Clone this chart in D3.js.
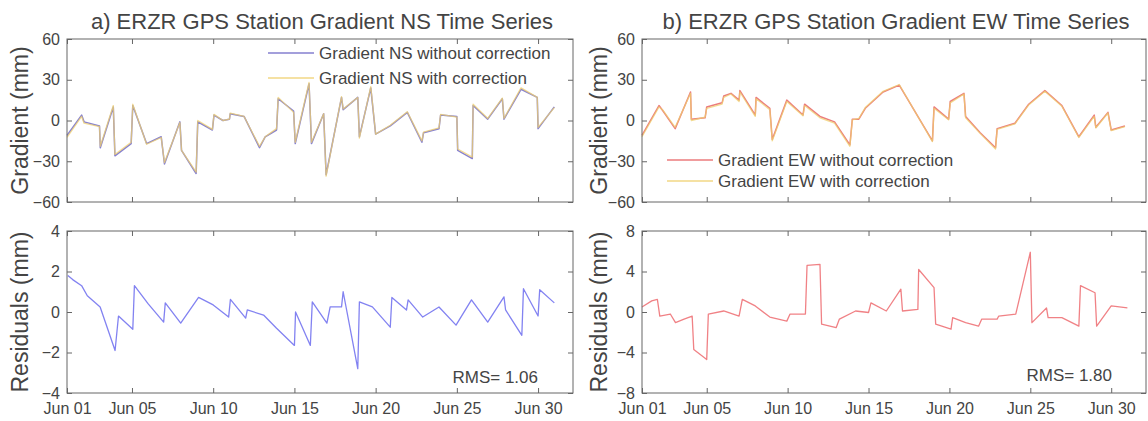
<!DOCTYPE html>
<html>
<head>
<meta charset="utf-8">
<script src="https://cdn.jsdelivr.net/npm/d3@7"></script>
<style>
  html, body { margin: 0; padding: 0; background: #fff; }
  svg { display: block; font-family: "Liberation Sans", Arial, sans-serif; }
</style>
</head>
<body>
<svg id="chart" width="1148" height="421"></svg>
<script>
// ---- NS gradient (mm), time in days since Jun 01 00:00 ----
const nsDays = [0.0,0.9,1.05,2.0,2.05,2.85,2.95,3.95,4.05,4.9,5.8,6.0,6.95,7.05,7.95,8.05,8.95,9.05,9.6,10.0,10.05,10.9,11.85,12.2,12.9,13.0,13.95,14.05,14.9,15.05,15.8,15.95,16.9,17.0,17.9,18.0,18.7,19.0,19.9,20.95,21.85,21.95,22.9,23.0,24.0,24.05,24.95,25.0,25.9,26.8,26.9,27.95,28.95,29.0,30.0];
const nsRaw  = [-11,4,-1,-4,-20,10,-26,-17,11,-17,-12,-32,-1,-22,-39,-1,-7,4,0,1,5,3,-20,-12,-7,16,7,-17,27,-17,5,-40,17,8,17,-12,24,-10,-4,6,-16,-9,-6,4,3,-22,-28,11,1,16,1,23,17,-6,10];
const nsCorr = [-12.5,3,-2,-4.5,-19,11,-25,-16,12,-17.5,-12.5,-31,-1.5,-22,-38,0,-6.5,4.5,0,1,5.5,3,-19,-12,-6,17,6,-16,28,-16,5,-41,17.5,8.5,17,-13,25,-10,-3.5,6.5,-15,-8.5,-5.5,4.5,2.5,-21,-27,12,1.5,16.5,1.5,24,17,-5,9.5];

// ---- NS residuals (mm) ----
const nsResDays = [0.05,0.35,0.9,1.25,2.04,2.96,3.17,4.05,4.15,5.0,5.95,6.05,7.0,8.1,9.0,9.95,10.06,11.0,11.1,12.1,12.9,14.0,14.07,14.98,15.1,16.0,16.2,16.9,17.0,17.9,18.0,18.8,19.9,20.0,20.9,21.0,21.9,22.9,23.95,24.9,25.9,26.9,27.0,28.0,28.1,29.0,29.1,30.0];
const nsRes     = [1.8,1.6,1.3,0.8,0.25,-1.9,-0.2,-0.85,1.3,0.4,-0.5,0.45,-0.55,0.72,0.35,-0.25,0.62,-0.3,0.1,-0.15,-0.8,-1.65,0.0,-1.65,0.5,-0.55,0.25,0.25,1.0,-2.8,0.5,0.25,-0.75,0.72,0.1,0.6,-0.25,0.25,-0.65,0.6,-0.5,0.75,0.1,-1.15,1.15,-0.2,1.1,0.45];

// ---- EW gradient (mm) ----
const ewDays = [0,1.05,1.3,2.05,3.0,3.05,3.9,4.0,4.95,5.05,5.5,6.0,6.05,7.0,7.05,7.9,8.05,8.95,9.95,10.05,11.0,11.9,12.85,13.0,13.4,13.8,14.9,15.9,17.95,18.05,18.95,19.05,19.9,20.0,20.9,21.85,21.95,23.05,23.9,24.9,25.95,27.0,27.95,28.05,28.8,29.0,29.85];
const ewRaw  = [-11,11,7,-6,21,1,2,10,13,18,20,15,22,4,17,9,-14,15,4,12,3,-1,-18,1,1,9,21,26,-15,10,1,14,20,3,-9,-20,-6,-2,12,22,11,-12,4,-5,6,-7,-4];
const ewCorr = [-12,10,7.5,-5,20,0,2.5,9,12,17,19.5,14,21,3,16,8,-15,14,3.5,11,2,-2,-19,0.5,1.5,9.5,21.5,26.5,-15.5,9,0.5,13,19.5,2,-9.5,-21,-6.5,-2.5,11.5,21.5,10.5,-12.5,3,-5.5,5.5,-7.5,-4.5];

// ---- EW residuals (mm) ----
const ewResDays = [0,0.6,0.95,1.1,1.75,2.07,2.6,3.1,3.2,4.0,4.1,5.05,6.0,6.2,7.0,7.9,8.95,9.15,10.1,10.2,11.0,11.1,12.0,12.2,13.2,14.0,14.15,15.1,16.0,16.1,17.05,17.1,18.05,18.15,19.1,19.2,20.0,20.8,21.0,21.95,22.05,23.1,24.0,24.1,25.0,25.1,25.95,27.0,27.1,28.0,28.1,29.0,30.0];
const ewRes     = [0.5,1.1,1.25,-0.4,-0.2,-1.05,-0.7,-0.4,-3.7,-4.7,-0.2,0.1,-0.4,1.25,0.6,-0.5,-0.9,-0.2,-0.2,4.6,4.7,-1.2,-1.55,-0.7,0.1,-0.05,0.9,0.1,2.25,0.1,0.25,4.2,2.4,-1.2,-1.7,-0.55,-1.05,-1.4,-0.7,-0.7,-0.4,-0.2,5.9,-1.05,0.4,-0.55,-0.55,-1.4,2.6,1.9,-1.4,0.6,0.4];

// ---- ticks and labels ----
const yTicksGrad  = [-60,-30,0,30,60];
const yTicksNSRes = [-4,-2,0,2,4];
const yTicksEWRes = [-8,-4,0,4,8];
const xTickDays   = [1,5,10,15,20,25,30];
const titles      = ["a) ERZR GPS Station Gradient NS Time Series", "b) ERZR GPS Station Gradient EW Time Series"];
const legendNS    = ["Gradient NS without correction", "Gradient NS with correction"];
const legendEW    = ["Gradient EW without correction", "Gradient EW with correction"];
const rmsLabels   = ["RMS= 1.06", "RMS= 1.80"];
const yLabelGrad  = "Gradient (mm)";
const yLabelRes   = "Residuals (mm)";

const TEXT = "#444444", AXIS = "#666666";
const C_NS = "#6660c4", C_EW = "#e65a5c", C_CORR = "#efcf6e";
const C_NSRES = "#7474f0", C_EWRES = "#ee7378";

const svg = d3.select("#chart");
const base = new Date(2019, 5, 1);
const toDate = d => new Date(base.getTime() + d * 864e5);
const xEnd = toDate(31.15);
const tickDates = xTickDays.map(d => new Date(2019, 5, d));
const fmt = d3.timeFormat("%b %d");

function panel(o) {
  const g = svg.append("g");
  const x = d3.scaleTime().domain([base, xEnd]).range([o.x0, o.x1]);
  const y = d3.scaleLinear().domain(o.yDomain).range([o.y1, o.y0]);
  const line = d3.line().x(p => x(p[0])).y(p => y(p[1]));

  o.series.forEach(s => {
    const pts = s.days.map((d, i) => [toDate(d), s.vals[i]]);
    g.append("path").datum(pts)
      .attr("fill", "none").attr("stroke", s.color)
      .attr("stroke-width", s.width).attr("stroke-opacity", s.opacity)
      .attr("stroke-linejoin", "round").attr("d", line);
  });

  const styleAxis = sel => {
    sel.select(".domain").remove();
    sel.selectAll("line").attr("stroke", AXIS);
    sel.selectAll("text").attr("fill", TEXT).style("font-size", "16px")
      .style("font-family", '"Liberation Sans", Arial, sans-serif');
  };

  g.append("g").attr("transform", `translate(${o.x0},0)`)
    .call(d3.axisLeft(y).tickValues(o.yTicks).tickSize(-5).tickPadding(7)).call(styleAxis);
  g.append("g").attr("transform", `translate(${o.x1},0)`)
    .call(d3.axisRight(y).tickValues(o.yTicks).tickSize(-5).tickFormat("")).call(styleAxis);
  g.append("g").attr("transform", `translate(0,${o.y0})`)
    .call(d3.axisTop(x).tickValues(tickDates).tickSize(-5).tickFormat("")).call(styleAxis);
  g.append("g").attr("transform", `translate(0,${o.y1})`)
    .call(d3.axisBottom(x).tickValues(tickDates).tickSize(-5).tickPadding(10)
      .tickFormat(o.xLabels ? fmt : "")).call(styleAxis);

  g.append("rect").attr("x", o.x0).attr("y", o.y0)
    .attr("width", o.x1 - o.x0).attr("height", o.y1 - o.y0)
    .attr("fill", "none").attr("stroke", AXIS).attr("stroke-width", 1);

  g.append("text")
    .attr("transform", `translate(${o.ylx},${(o.y0 + o.y1) / 2}) rotate(-90)`)
    .attr("text-anchor", "middle").attr("dy", "0.35em")
    .attr("fill", TEXT).style("font-size", "23px").text(o.ylabel);

  if (o.title) {
    g.append("text").attr("x", (o.x0 + o.x1) / 2 + 2).attr("y", 29)
      .attr("text-anchor", "middle").attr("fill", TEXT)
      .style("font-size", "22px").text(o.title);
  }
  if (o.legend) {
    o.legend.items.forEach((it, i) => {
      const ly = o.legend.y + i * o.legend.gap;
      g.append("line").attr("x1", o.legend.x).attr("x2", o.legend.x + 46)
        .attr("y1", ly).attr("y2", ly).attr("stroke", it.color)
        .attr("stroke-width", 1.4).attr("stroke-opacity", it.opacity);
      g.append("text").attr("x", o.legend.x + 51).attr("y", ly).attr("dy", "0.35em")
        .attr("fill", TEXT).style("font-size", "17px").text(it.label);
    });
  }
  if (o.rms) {
    g.append("text").attr("x", o.rms.x).attr("y", o.rms.y).attr("dy", "0.35em")
      .attr("text-anchor", "end").attr("fill", TEXT)
      .style("font-size", "17px").text(o.rms.text);
  }
}

// Panel a: NS
panel({
  x0: 67, x1: 573, y0: 39, y1: 202, yDomain: [-60, 60], yTicks: yTicksGrad,
  ylabel: yLabelGrad, ylx: 20, title: titles[0], xLabels: false,
  series: [
    { days: nsDays, vals: nsRaw,  color: C_NS,   width: 1.5, opacity: 0.8 },
    { days: nsDays, vals: nsCorr, color: C_CORR, width: 1.3, opacity: 0.75 }
  ],
  legend: { x: 268, y: 53, gap: 25, items: [
    { label: legendNS[0], color: C_NS, opacity: 0.8 },
    { label: legendNS[1], color: C_CORR, opacity: 0.85 }
  ]}
});
panel({
  x0: 67, x1: 573, y0: 231, y1: 393, yDomain: [-4, 4], yTicks: yTicksNSRes,
  ylabel: yLabelRes, ylx: 20, xLabels: true,
  series: [{ days: nsResDays, vals: nsRes, color: C_NSRES, width: 1.3, opacity: 0.9 }],
  rms: { x: 538, y: 377, text: rmsLabels[0] }
});

// Panel b: EW
panel({
  x0: 642, x1: 1146, y0: 39, y1: 202, yDomain: [-60, 60], yTicks: yTicksGrad,
  ylabel: yLabelGrad, ylx: 599, title: titles[1], xLabels: false,
  series: [
    { days: ewDays, vals: ewRaw,  color: C_EW,   width: 1.5, opacity: 0.8 },
    { days: ewDays, vals: ewCorr, color: C_CORR, width: 1.3, opacity: 0.75 }
  ],
  legend: { x: 667, y: 160, gap: 21, items: [
    { label: legendEW[0], color: C_EW, opacity: 0.8 },
    { label: legendEW[1], color: C_CORR, opacity: 0.85 }
  ]}
});
panel({
  x0: 642, x1: 1146, y0: 231, y1: 393, yDomain: [-8, 8], yTicks: yTicksEWRes,
  ylabel: yLabelRes, ylx: 599, xLabels: true,
  series: [{ days: ewResDays, vals: ewRes, color: C_EWRES, width: 1.3, opacity: 0.9 }],
  rms: { x: 1112, y: 375, text: rmsLabels[1] }
});
</script>
</body>
</html>
